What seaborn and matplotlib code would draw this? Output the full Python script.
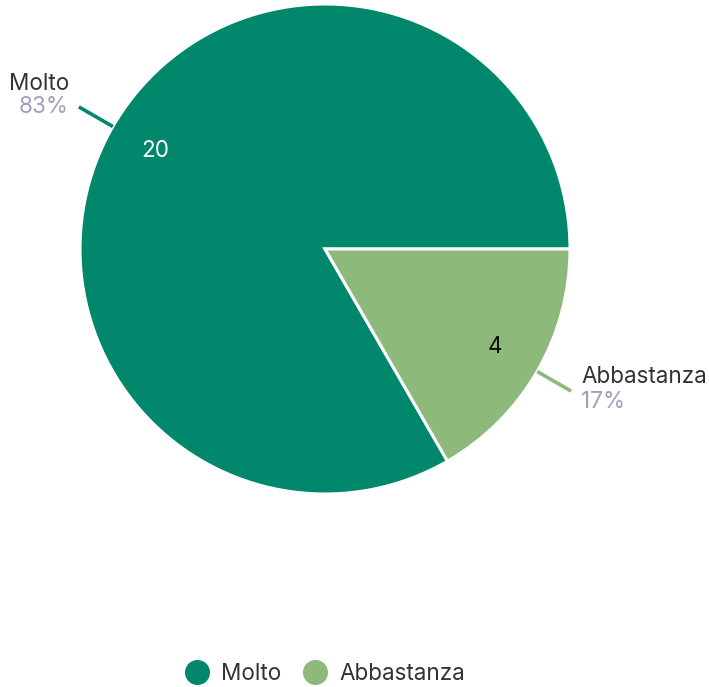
import numpy as np
import matplotlib
matplotlib.use("Agg")
import matplotlib.pyplot as plt
import seaborn as sns
from matplotlib.lines import Line2D

categories = ["Molto", "Abbastanza"]
values = [20, 4]
colors = ["#00876C", "#8DB97A"]
inner_text_colors = ["white", "#111111"]

sns.set_theme(style="white")
plt.rcParams['font.family'] = ['Inter', 'DejaVu Sans']

W, H = 709, 687
fig = plt.figure(figsize=(W / 100, H / 100), dpi=100)
cx, cy, R = 325, 249, 245
ax = fig.add_axes([(cx - R) / W, (H - cy - R) / H, 2 * R / W, 2 * R / H])

wedges, _ = ax.pie(values, colors=colors, startangle=0, counterclock=True,
                   radius=1, center=(0, 0), frame=False,
                   wedgeprops=dict(edgecolor="white", linewidth=2.2))
ax.set_xlim(-1, 1)
ax.set_ylim(-1, 1)
ax.set_aspect("equal")
ax.axis("off")

FS = 16.2
px = 1.0 / R  # one pixel in data units
total = sum(values)
for w, cat, v, col, tc in zip(wedges, categories, values, colors, inner_text_colors):
    mid = np.deg2rad((w.theta1 + w.theta2) / 2)
    c, s = np.cos(mid), np.sin(mid)
    ax.text(0.8 * c, 0.8 * s, str(v), color=tc, fontsize=FS, ha="center", va="center")
    ex, ey = 1.16 * c, 1.16 * s
    ax.plot([1.0 * c, ex], [1.0 * s, ey], color=col, lw=2.6,
            solid_capstyle="butt", clip_on=False)
    if c > 0:
        ha, tx = "left", ex + 10 * px
        name_y, pct_y = ey + 14 * px, ey - 11 * px
    else:
        ha, tx = "right", ex - 10 * px
        name_y, pct_y = ey + 23 * px, ey
    ax.text(tx, name_y, cat, color="#333333", fontsize=FS, ha=ha, va="center",
            clip_on=False)
    ax.text(tx, pct_y, f"{round(100 * v / total)}%", color="#A09FBF", fontsize=FS,
            ha=ha, va="center", clip_on=False)

handles = [Line2D([0], [0], marker="o", linestyle="", markersize=17,
                  markerfacecolor=c, markeredgecolor=c) for c in colors]
fig.legend(handles, categories, loc="center", bbox_to_anchor=(cx / W, 1 - 674 / H),
           ncol=2, frameon=False, fontsize=FS, handletextpad=0.55,
           columnspacing=0.95, handlelength=1.05, labelcolor="#333333")

fig.savefig("out.png", dpi=100)
